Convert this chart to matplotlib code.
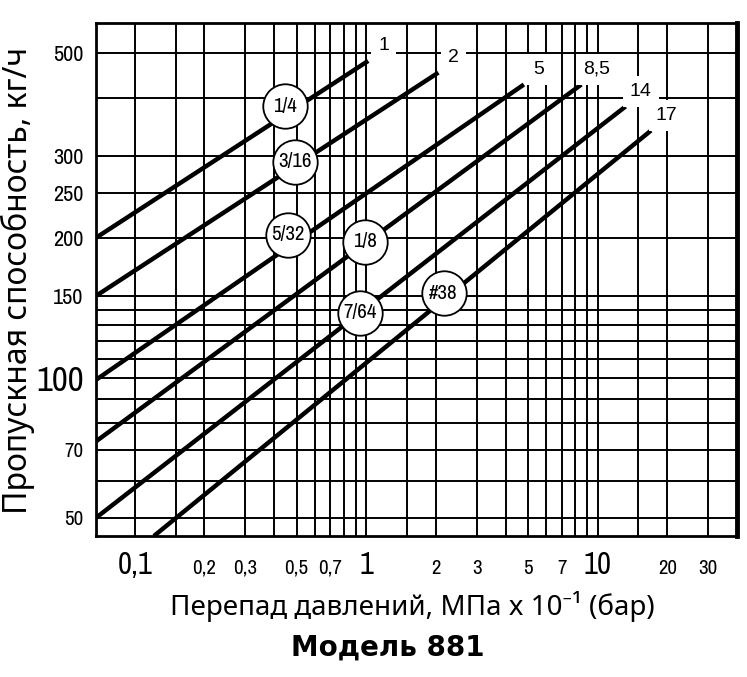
import matplotlib
matplotlib.use("Agg")
import matplotlib.pyplot as plt
from matplotlib import font_manager
from matplotlib.font_manager import FontProperties
from matplotlib.ticker import FixedLocator, NullFormatter

# --- data ---
orifice = ['1/4', '3/16', '5/32', '1/8', '7/64', '#38']
dp_max_lbl = ['1', '2', '5', '8,5', '14', '17']
dp_start = [0.068, 0.068, 0.068, 0.068, 0.068, 0.121]
q_start = [200, 150, 99, 73, 50, 45.7]
dp_end = [1.02, 2.05, 4.8, 8.5, 13.2, 17.0]
q_end = [480, 453, 427, 427, 383, 340]
circle_dp = [0.444, 0.49, 0.458, 0.99, 0.94, 2.16]
circle_q = [383, 291, 203, 196, 138, 152]

x_major = [0.1, 0.2, 0.3, 0.5, 0.7, 1, 2, 3, 5, 7, 10, 20, 30]
x_labels = ['0,1', '0,2', '0,3', '0,5', '0,7', '1', '2', '3', '5', '7', '10', '20', '30']
x_big = ['0,1', '1', '10']
x_minor = [0.15, 0.4, 0.6, 0.8, 0.9, 1.5, 4, 6, 8, 9, 15]

y_major = [50, 70, 100, 150, 200, 250, 300, 500]
y_labels = ['50', '70', '100', '150', '200', '250', '300', '500']
y_small = ['50', '70']
y_big = ['100']
y_minor = [60, 80, 90, 110, 120, 130, 140, 400]

# look for a condensed face for the numbers
narrow_file = None
for f in font_manager.fontManager.ttflist:
    if 'Narrow' in f.name and 'Bold' not in f.fname and 'Italic' not in f.fname:
        narrow_file = f.fname
        break
if narrow_file is None:
    for f in font_manager.fontManager.ttflist:
        if f.fname.endswith('DejaVuSansCondensed.ttf'):
            narrow_file = f.fname
            break


def num_font(size):
    if narrow_file:
        return FontProperties(fname=narrow_file, size=size)
    return FontProperties(family='Liberation Sans', size=size)


fig = plt.figure(figsize=(7.47, 6.77), dpi=100)
ax = fig.add_axes([96 / 747, 1 - 536 / 677, 641 / 747, 513 / 677])
ax.set_xscale('log')
ax.set_yscale('log')
ax.set_xlim(0.068, 40)
ax.set_ylim(45.7, 579)

ax.xaxis.set_major_locator(FixedLocator(x_major))
ax.xaxis.set_minor_locator(FixedLocator(x_minor))
ax.yaxis.set_major_locator(FixedLocator(y_major))
ax.yaxis.set_minor_locator(FixedLocator(y_minor))
ax.xaxis.set_minor_formatter(NullFormatter())
ax.yaxis.set_minor_formatter(NullFormatter())
ax.set_xticklabels(x_labels)
ax.set_yticklabels(y_labels)
ax.tick_params(which='both', length=0)
ax.tick_params(axis='x', pad=27)
ax.tick_params(axis='y', pad=9)

for lbl in ax.get_xticklabels():
    lbl.set_fontproperties(num_font(22 if lbl.get_text() in x_big else 15))
    lbl.set_verticalalignment('baseline')
for lbl in ax.get_yticklabels():
    t = lbl.get_text()
    lbl.set_fontproperties(num_font(25 if t in y_big else (15 if t in y_small else 16)))

ax.set_axisbelow(True)
ax.grid(which='both', color='black', lw=1.4)
for s in ax.spines.values():
    s.set_linewidth(2)
ax.spines['right'].set_linewidth(3.5)

# flow lines
for i in range(len(orifice)):
    ax.plot([dp_start[i], dp_end[i]], [q_start[i], q_end[i]],
            color='black', lw=3.2, solid_capstyle='butt', zorder=3)
    ax.annotate(dp_max_lbl[i], (dp_end[i], q_end[i]), xytext=(11, 11),
                textcoords='offset points', ha='center', va='center',
                fontsize=14, family='Liberation Sans', zorder=4,
                bbox=dict(boxstyle='square,pad=0.35', fc='white', ec='none'))

# orifice circles
ax.plot(circle_dp, circle_q, 'o', ms=32, mfc='white', mec='black', mew=1.3,
        ls='none', zorder=5)
for i in range(len(orifice)):
    ax.text(circle_dp[i], circle_q[i], orifice[i], ha='center', va='center',
            fontproperties=num_font(15), zorder=6)

fig.text(412 / 747, 1 - 607 / 677, 'Перепад давлений, МПа x 10⁻¹ (бар)',
         ha='center', va='center', fontsize=20, family=['Noto Sans', 'DejaVu Sans'])
fig.text(18 / 747, 1 - 280 / 677, 'Пропускная способность, кг/ч', rotation=90,
         ha='center', va='center', fontsize=23, family=['Noto Sans', 'DejaVu Sans'])
fig.text(388 / 747, 1 - 648 / 677, 'Модель 881', ha='center', va='center',
         fontsize=20, fontweight='bold', family='DejaVu Sans')

fig.savefig('out.png', dpi=100)
